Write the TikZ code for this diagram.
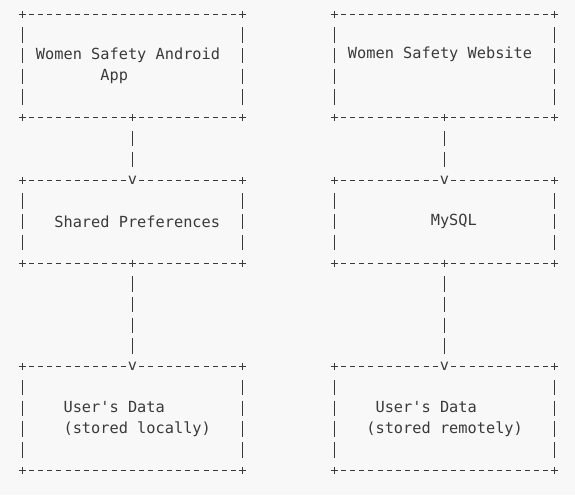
\documentclass[tikz,border=0pt]{standalone}
\usepackage{fontspec}
\usetikzlibrary{positioning}
\newfontfamily\asciifont{DejaVu Sans Mono}
\definecolor{PaperGray}{RGB}{248,248,248}
\definecolor{InkGray}{RGB}{58,58,58}

\tikzset{
  box/.style={minimum width=220.8pt, text width=211.6pt, inner xsep=4.6pt, inner ysep=0pt,
    outer sep=0pt, align=left, text=InkGray, font=\asciifont\fontsize{15.3}{20.75}\selectfont,
    execute at begin node={\spaceskip=0pt\xspaceskip=0pt}},
  tallbox/.style={box, minimum height=103.75pt},
  flatbox/.style={box, minimum height=83pt},
  hdash/.style={draw=InkGray, line width=0.9pt, dash pattern=on 5pt off 4.2pt, dash phase=2.5pt},
  vdash/.style={draw=InkGray, line width=1.1pt, dash pattern=on 15.5pt off 5.25pt,
    shorten <=13pt, shorten >=13pt},
  asciiplus/.style={draw=InkGray, line width=1pt},
  link/.style={vdash, shorten >=8pt},
  vmark/.style={font=\asciifont\fontsize{15.3}{20.75}\selectfont, text=InkGray,
    fill=PaperGray, inner sep=0.5pt}
}

\newcommand{\plusat}[1]{\draw[asciiplus] (#1) +(-3.5,0) -- +(3.5,0) +(0,-3.5) -- +(0,3.5);}
\newcommand{\asciiframe}[1]{%
  \draw[hdash] (#1.north west) -- (#1.north east);
  \draw[hdash] (#1.south west) -- (#1.south east);
  \draw[vdash] (#1.north west) -- (#1.south west);
  \draw[vdash] (#1.north east) -- (#1.south east);
  \foreach \c in {north west,north east,south west,south east} {\plusat{#1.\c}}
}

\begin{document}
\begin{tikzpicture}[x=1pt, y=-1pt]
    \fill[PaperGray] (0,0) rectangle (575,495);

    % Android side
    \node[tallbox] (app) at (132.5,65.9) {\hphantom{x}Women Safety Android\\\hphantom{xxxxxxxx}App};
    \node[flatbox, below=62.25pt of app] (prefs) {\hphantom{xxx}Shared Preferences};
    \node[tallbox, below=103.75pt of prefs] (local) {\hphantom{xxxx}User's Data\\\hphantom{xxxx}(stored locally)};

    % Website side
    \node[tallbox, right=91.2pt of app] (site) {\hphantom{x}Women Safety Website\\\strut};
    \node[flatbox, below=62.25pt of site] (mysql) {\hphantom{xxxxxxxxxx}MySQL};
    \node[tallbox, below=103.75pt of mysql] (remote) {\hphantom{xxxx}User's Data\\\hphantom{xxx}(stored remotely)};

    \foreach \n in {app,prefs,local,site,mysql,remote} {\asciiframe{\n}}

    % Links
    \plusat{app.south}
    \plusat{prefs.south}
    \plusat{site.south}
    \plusat{mysql.south}
    \draw[link] (app.south) -- (prefs.north) node[vmark] {v};
    \draw[link] (prefs.south) -- (local.north) node[vmark] {v};
    \draw[link] (site.south) -- (mysql.north) node[vmark] {v};
    \draw[link] (mysql.south) -- (remote.north) node[vmark] {v};
\end{tikzpicture}
\end{document}
